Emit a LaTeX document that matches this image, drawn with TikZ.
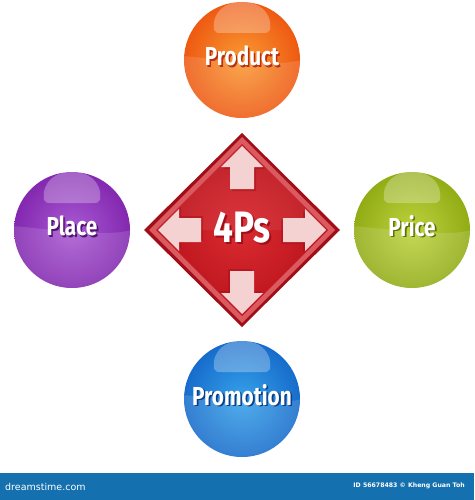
\documentclass[tikz,border=0pt]{standalone}
\usepackage{fontspec}
\newfontfamily\lblfont{Fira Sans}[FakeStretch=0.8]
\newfontfamily\barfont{DejaVu Sans}
\definecolor{orOut}{HTML}{EE5A12}
\definecolor{orIn}{HTML}{F99A33}
\definecolor{orSh}{HTML}{B8300E}
\definecolor{puOut}{HTML}{8328B0}
\definecolor{puIn}{HTML}{A859D2}
\definecolor{puSh}{HTML}{4E1470}
\definecolor{grOut}{HTML}{92AC16}
\definecolor{grIn}{HTML}{BDD33E}
\definecolor{grSh}{HTML}{5E7008}
\definecolor{blOut}{HTML}{176CCB}
\definecolor{blIn}{HTML}{36A2EA}
\definecolor{blSh}{HTML}{0C3E88}
\definecolor{dmOut}{HTML}{A20E18}
\definecolor{dmBevel}{HTML}{DB5A60}
\definecolor{dmIn}{HTML}{DA2A30}
\definecolor{dmEdge}{HTML}{B9131C}
\definecolor{arrowFill}{HTML}{F4D2D2}
\definecolor{barBlue}{HTML}{1470AE}
\tikzset{
  balltext/.style={font=\lblfont\bfseries\fontsize{26}{29}\selectfont, inner sep=0pt},
  ballnode/.style={circle, minimum size=116pt, inner sep=0pt},
  arrowshape/.style={fill=arrowFill},
  arrowshadow/.style={fill=dmOut, opacity=0.45}
}
\newcommand\drawball[7]{%
  \node[ballnode, inner color=#5, outer color=#4] (#1) at (#2,#3) {};
  \begin{scope}
    \clip (#2,#3) circle (58);
    \fill[white, opacity=0.13] (#2-60,#3-4) .. controls (#2-30,#3-2) and (#2+30,#3+8) .. (#2+60,#3+0) -- (#2+60,#3+60) -- (#2-60,#3+60) -- cycle;
  \end{scope}
  \fill[white, opacity=0.28] (#2-28,#3-30) .. controls (#2-33,#3-68) and (#2+33,#3-68) .. (#2+28,#3-30)
     .. controls (#2+27,#3-27) and (#2+24,#3-27) .. (#2+20,#3-27) -- (#2-20,#3-27)
     .. controls (#2-24,#3-27) and (#2-27,#3-27) .. cycle;
  \node[balltext, text=#6] at (#2+1.6,#3-2.4) {#7};
  \node[balltext, text=white] (#1-label) at (#2,#3-4) {#7};
}
\begin{document}
\begin{tikzpicture}[x=1pt,y=-1pt]
\useasboundingbox (0,0) rectangle (474,500);
\fill[white] (0,0) rectangle (474,500);

% balls
\drawball{product}{242}{60}{orOut}{orIn}{orSh}{Product}
\drawball{place}{72}{230}{puOut}{puIn}{puSh}{Place}
\drawball{price}{412}{230}{grOut}{grIn}{grSh}{Price}
\drawball{promotion}{242}{399}{blOut}{blIn}{blSh}{Promotion}

% diamond
\coordinate (c) at (242,230);
\fill[dmOut] (242,133) -- (340,230) -- (242,327) -- (144,230) -- cycle;
\fill[dmBevel] (242,137) -- (335,230) -- (242,323) -- (149,230) -- cycle;
\shade[inner color=dmIn, outer color=dmEdge] (242,144) -- (328,230) -- (242,316) -- (156,230) -- cycle;
\fill[white, opacity=0.06] (242,144) -- (328,230) -- (156,230) -- cycle;

% arrows
\foreach \ang in {0,90,180,270}{
  \begin{scope}[shift={(c)}, rotate=\ang]
    \fill[arrowshadow, shift={(2,2)}] (0,-84) -- (21,-63) -- (12,-63) -- (12,-41) -- (-12,-41) -- (-12,-63) -- (-21,-63) -- cycle;
    \fill[arrowshape] (0,-84) -- (21,-63) -- (12,-63) -- (12,-41) -- (-12,-41) -- (-12,-63) -- (-21,-63) -- cycle;
  \end{scope}
}
\node[font=\lblfont\bfseries\fontsize{44}{48}\selectfont, text=dmOut, inner sep=0pt] at (243.8,229.5) {4Ps};
\node[font=\lblfont\bfseries\fontsize{44}{48}\selectfont, text=white, inner sep=0pt] (fourps) at (242,227.5) {4Ps};

% bottom bar
\fill[barBlue] (0,473) rectangle (474,500);
\node[font=\barfont\fontsize{9.5}{11}\selectfont, text=white, anchor=west, inner sep=0pt] (brand) at (5,487) {dreamstime.com};
\node[font=\barfont\bfseries\fontsize{6.2}{8}\selectfont, text=white, anchor=east, inner sep=0pt] (credit) at (465,486) {ID 56678483 © Kheng Guan Toh};
\end{tikzpicture}
\end{document}
